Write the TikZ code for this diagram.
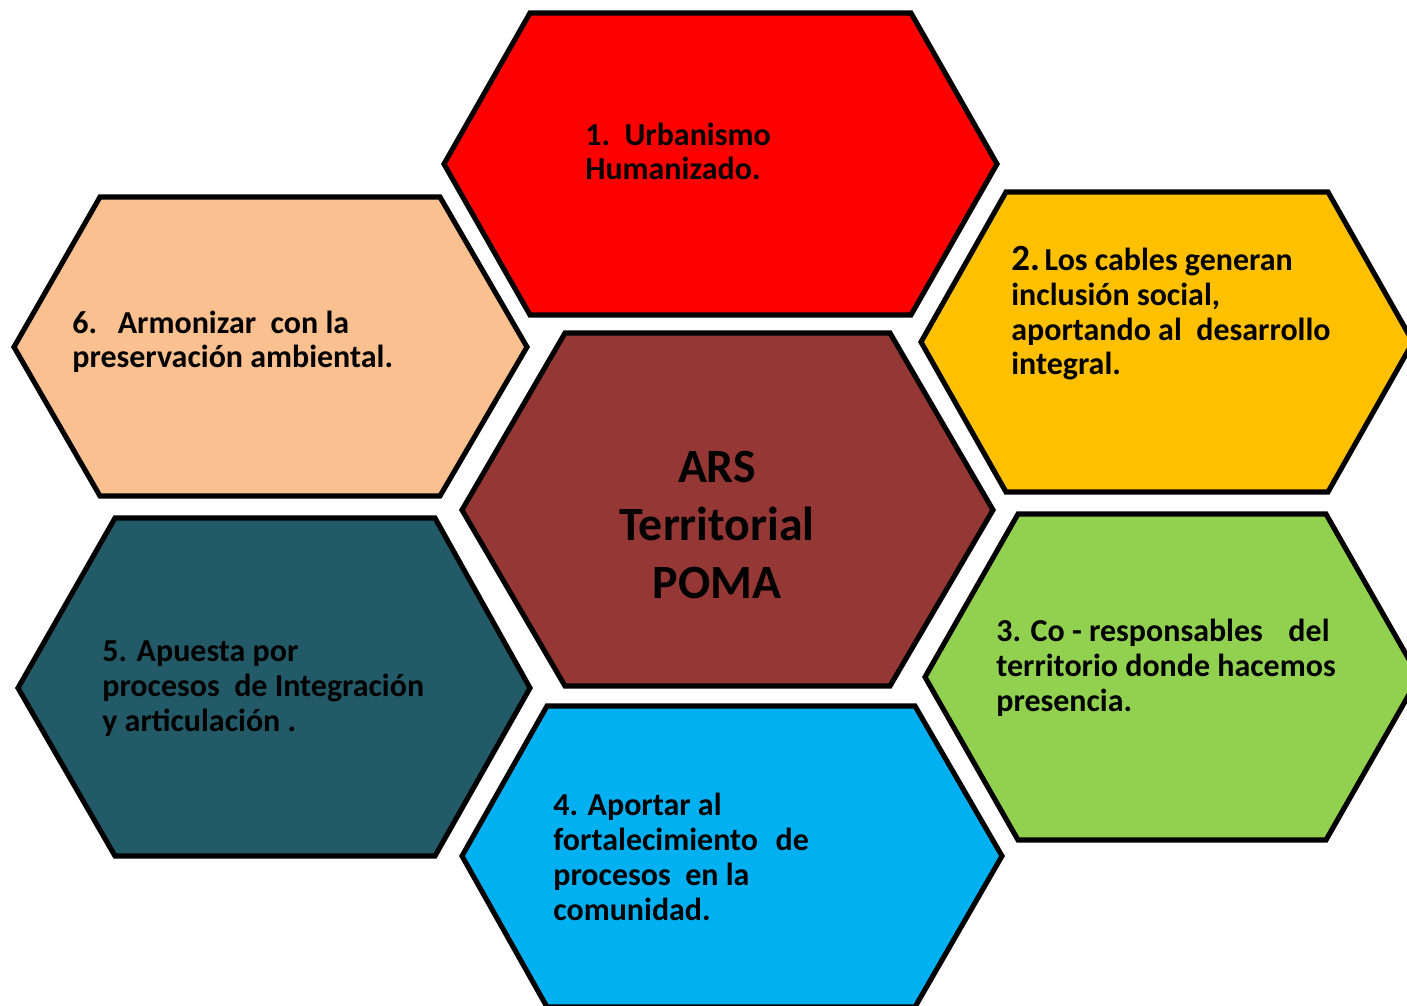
\documentclass[tikz,border=0pt]{standalone}
\usepackage{fontspec}
\setmainfont{Carlito}
\usepackage{tikz}
\usetikzlibrary{positioning}

\definecolor{hexred}{HTML}{FF0000}
\definecolor{hexgold}{HTML}{FFC000}
\definecolor{hexgreen}{HTML}{92D050}
\definecolor{hexblue}{HTML}{00B0F0}
\definecolor{hexteal}{HTML}{235A68}
\definecolor{hexpeach}{HTML}{FAC090}
\definecolor{hexbrown}{HTML}{953735}

\begin{document}
\begin{tikzpicture}[
    x=0.02cm, y=-0.02cm,
    cell/.style={draw=black, line width=2.9pt, line join=miter},
    txt/.style={anchor=base west, align=left, inner sep=0pt, font=\fontsize{18.2pt}{19.9pt}\selectfont\bfseries},
    core/.style={align=center, inner sep=0pt, font=\fontsize{27.2pt}{33pt}\selectfont\bfseries}
]
\useasboundingbox (0,0) rectangle (1407,1006);
\clip (0,0) rectangle (1407,1006);

% Hexagon cells
\draw[cell, fill=hexred]   (530,13) -- (911,13) -- (997,164) -- (911,315) -- (530,315) -- (444,164) -- cycle;
\draw[cell, fill=hexgold]  (1006,192) -- (1328,192) -- (1413,342) -- (1328,492) -- (1006,492) -- (921,342) -- cycle;
\draw[cell, fill=hexgreen] (1018,514) -- (1326,514) -- (1419,677) -- (1326,840) -- (1018,840) -- (925,677) -- cycle;
\draw[cell, fill=hexblue]  (547,706) -- (915,706) -- (1002,856) -- (915,1007) -- (547,1007) -- (462,856) -- cycle;
\draw[cell, fill=hexteal]  (115,518) -- (435,518) -- (530,688) -- (435,856) -- (115,856) -- (18,688) -- cycle;
\draw[cell, fill=hexpeach] (100,197) -- (440,197) -- (527,347) -- (440,496) -- (100,496) -- (14,347) -- cycle;
\draw[cell, fill=hexbrown] (565,333) -- (890,333) -- (993,510) -- (890,686) -- (565,686) -- (462,510) -- cycle;

% Texts (anchored at the baseline of the last line)
\node[core] (ars) at (717,525) {ARS\\Territorial\\POMA};
\node[txt] (urb) at (585,180) {1.\ \ Urbanismo\\Humanizado.};
\node[txt] (cab) at (1011,375) {{\fontsize{21pt}{19.9pt}\selectfont 2.}\hspace{0.15em}Los cables generan\\inclusión social,\\aportando al\ \ desarrollo\\integral.};
\node[txt] (cor) at (996,711) {3. Co - responsables\hspace{0.8em}del\\territorio donde hacemos\\presencia.};
\node[txt] (apo) at (553,920) {4. Aportar al\\fortalecimiento\hspace{0.55em}de\\procesos\ \ en la\\comunidad.};
\node[txt] (apu) at (102,731) {5. Apuesta por\\procesos\ \ de Integración\\y articulación .};
\node[txt] (arm) at (72,368) {6.\hspace{0.65em}Armonizar\ \ con la\\preservación ambiental.};

\end{tikzpicture}
\end{document}
